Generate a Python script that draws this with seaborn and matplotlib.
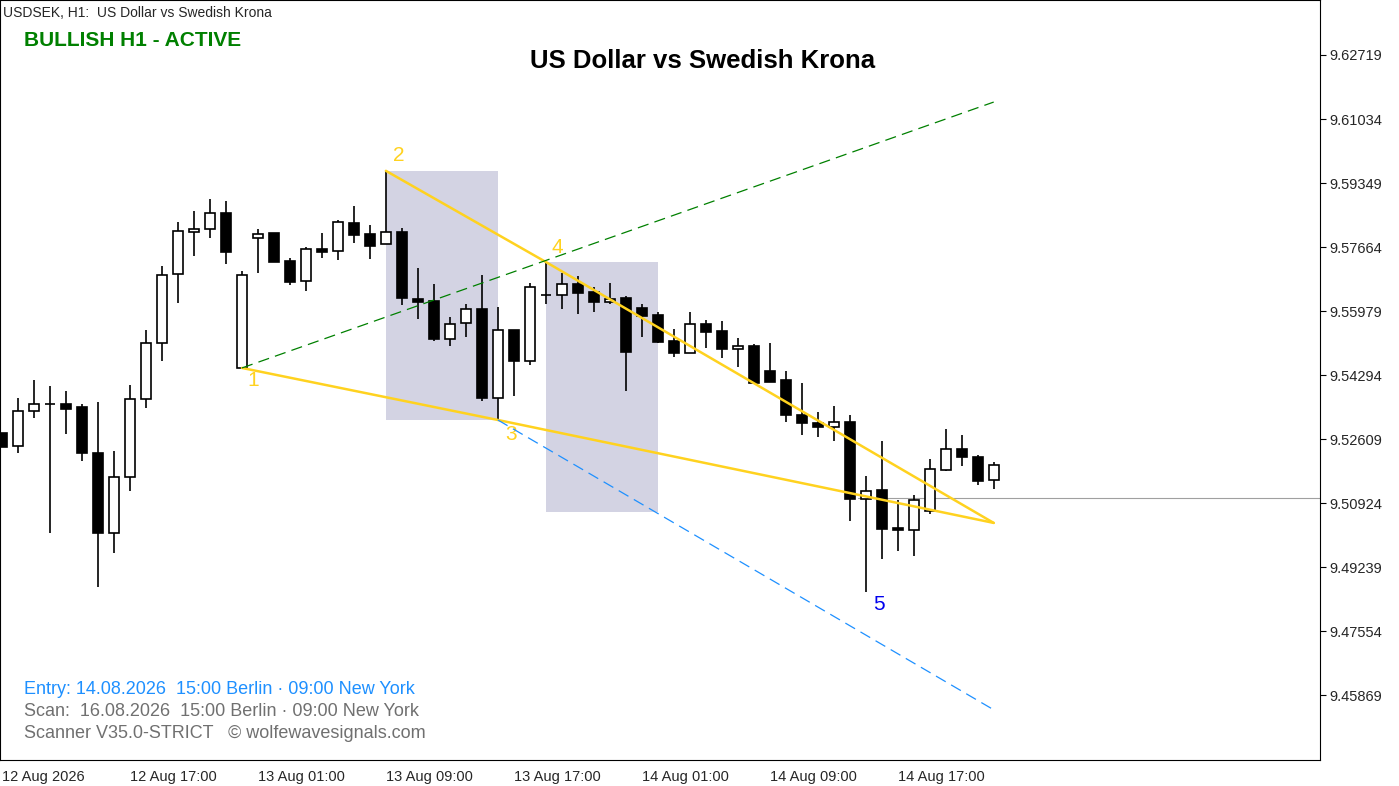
import matplotlib
matplotlib.use("Agg")
import matplotlib.pyplot as plt
import seaborn as sns
import numpy as np
import pandas as pd
from matplotlib.patches import Rectangle

opens = [9.5277,9.5243,9.5335,9.5353,9.5353,9.5345,9.5224,9.5014,9.5161,9.5366,9.5514,9.5696,9.5806,9.5814,9.5856,9.5448,
         9.5790,9.5804,9.5730,9.5677,9.5761,9.5756,9.5830,9.5801,9.5775,9.5806,9.5630,9.5624,9.5524,9.5567,9.5603,9.5369,
         9.5548,9.5466,9.5640,9.5640,9.5669,9.5648,9.5622,9.5632,9.5606,9.5588,9.5519,9.5488,9.5564,9.5545,9.5498,9.5506,
         9.5440,9.5416,9.5324,9.5303,9.5293,9.5306,9.5103,9.5127,9.5027,9.5022,9.5072,9.5179,9.5235,9.5214,9.5153]
highs = [9.5277,9.5369,9.5416,9.5401,9.5387,9.5353,9.5359,9.5230,9.5403,9.5548,9.5717,9.5832,9.5861,9.5893,9.5888,9.5703,
         9.5814,9.5804,9.5738,9.5767,9.5804,9.5838,9.5875,9.5825,9.5967,9.5817,9.5711,9.5669,9.5582,9.5617,9.5693,9.5609,
         9.5548,9.5672,9.5727,9.5698,9.5690,9.5661,9.5672,9.5638,9.5617,9.5596,9.5551,9.5596,9.5574,9.5572,9.5527,9.5511,
         9.5514,9.5440,9.5409,9.5332,9.5348,9.5324,9.5164,9.5256,9.5100,9.5114,9.5208,9.5287,9.5272,9.5219,9.5201]
lows = [9.5240,9.5224,9.5316,9.5014,9.5274,9.5203,9.4871,9.4961,9.5124,9.5343,9.5466,9.5619,9.5743,9.5790,9.5722,9.5448,
        9.5698,9.5727,9.5667,9.5651,9.5738,9.5732,9.5777,9.5735,9.5775,9.5614,9.5577,9.5519,9.5506,9.5530,9.5361,9.5311,
        9.5374,9.5456,9.5617,9.5603,9.5590,9.5596,9.5617,9.5387,9.5530,9.5514,9.5477,9.5488,9.5501,9.5474,9.5451,9.5409,
        9.5411,9.5306,9.5272,9.5266,9.5256,9.5045,9.4858,9.4945,9.4966,9.4953,9.5064,9.5177,9.5190,9.5140,9.5129]
closes = [9.5240,9.5335,9.5353,9.5352,9.5340,9.5224,9.5014,9.5161,9.5366,9.5514,9.5693,9.5809,9.5814,9.5856,9.5753,9.5693,
          9.5801,9.5727,9.5674,9.5761,9.5753,9.5832,9.5798,9.5769,9.5806,9.5632,9.5622,9.5524,9.5564,9.5603,9.5369,9.5548,
          9.5466,9.5661,9.5640,9.5669,9.5646,9.5622,9.5630,9.5490,9.5585,9.5517,9.5488,9.5564,9.5543,9.5498,9.5506,9.5409,
          9.5411,9.5324,9.5303,9.5293,9.5306,9.5103,9.5124,9.5024,9.5022,9.5100,9.5182,9.5235,9.5214,9.5151,9.5193]

tick_idx = [0, 8, 16, 24, 32, 40, 48, 56]
tick_labels = ["12 Aug 2026", "12 Aug 17:00", "13 Aug 01:00", "13 Aug 09:00",
               "13 Aug 17:00", "14 Aug 01:00", "14 Aug 09:00", "14 Aug 17:00"]
y_ticks = [9.62719, 9.61034, 9.59349, 9.57664, 9.55979, 9.54294, 9.52609, 9.50924, 9.49239, 9.47554, 9.45869]

# Wolfe wave points (index, price)
wave_idx = [15, 24, 31, 34, 54]
wave_price = [9.5448, 9.5967, 9.5311, 9.5727, 9.4858]
apex_idx, apex_price = 62, 9.5040
green_end = (62, 9.6148)
blue_end = (62, 9.4548)
current_price = 9.5106

sns.set_style("white")
plt.rcParams['font.family'] = ['Liberation Sans', 'DejaVu Sans']

fig = plt.figure(figsize=(13.99, 7.86), dpi=100)
ax = fig.add_axes([0.0, 1 - 760/786, 1320/1399, 760/786])
ax.set_xlim(-0.125, 82.4)
ax.set_ylim(9.44158, 9.64167)

for (i0, i1, p0, p1) in [(24, 31, wave_price[2], wave_price[1]), (34, 41, 9.5069, wave_price[3])]:
    ax.add_patch(Rectangle((i0, p0), i1 - i0, p1 - p0, color="#d3d3e3", zorder=0, lw=0))

ax.axhline(current_price, xmin=(53.5+0.125)/82.525, color="#a0a0a0", lw=0.8, zorder=1)

x = np.arange(len(opens))
df = pd.DataFrame({"x": x, "o": opens, "h": highs, "l": lows, "c": closes})
ax.vlines(df.x, df.l, df.h, color="black", lw=1.2, zorder=2)
w = 0.62
for r in df.itertuples():
    bull = r.c >= r.o
    lo, hi = min(r.o, r.c), max(r.o, r.c)
    hgt = max(hi - lo, 0.00008)
    ax.add_patch(Rectangle((r.x - w/2, lo), w, hgt, facecolor="white" if bull else "black",
                           edgecolor="black", lw=1.2, zorder=3))

gold = "#FFD21F"
sns.lineplot(x=[wave_idx[0], wave_idx[2], apex_idx], y=[wave_price[0], wave_price[2], apex_price],
             ax=ax, color=gold, lw=1.8, zorder=4)
sns.lineplot(x=[wave_idx[1], wave_idx[3], apex_idx], y=[wave_price[1], wave_price[3], apex_price],
             ax=ax, color=gold, lw=1.8, zorder=4, sort=False)
ax.plot([wave_idx[0], green_end[0]], [wave_price[0], green_end[1]], color="green", lw=0.9, ls=(0, (9, 5)), zorder=4)
ax.plot([wave_idx[2], blue_end[0]], [wave_price[2], blue_end[1]], color="#1E90FF", lw=0.9, ls=(0, (9, 5)), zorder=4)

ax.text(15.7, 9.5448 - 0.0033, "1", color=gold, fontsize=15, ha="center", va="center")
ax.text(24.8, 9.5967 + 0.0040, "2", color=gold, fontsize=15, ha="center", va="center")
ax.text(31.8, 9.5311 - 0.0037, "3", color=gold, fontsize=15, ha="center", va="center")
ax.text(34.7, 9.5727 + 0.0039, "4", color=gold, fontsize=15, ha="center", va="center")
ax.text(54.8, 9.4858 - 0.0033, "5", color="#0000EE", fontsize=15, ha="center", va="center")

ax.set_xticks(tick_idx)
ax.set_xticklabels(tick_labels, fontsize=10.5, ha="left")
ax.set_yticks(y_ticks)
ax.set_yticklabels([f"{v:.5f}" for v in y_ticks], fontsize=10.5)
ax.yaxis.tick_right()
ax.tick_params(axis="both", length=4, width=0.8, color="black", direction="out", pad=3)
for s in ax.spines.values():
    s.set_color("black"); s.set_linewidth(0.8)

ax.text(0.002, 0.992, "USDSEK, H1:  US Dollar vs Swedish Krona",
        transform=ax.transAxes, fontsize=10, va="top", ha="left")
ax.text(24/1320, 1 - 41/760, "BULLISH H1 - ACTIVE", transform=ax.transAxes, fontsize=15,
        fontweight="bold", color="#008000", va="center", ha="left")
ax.text(703/1320, 1 - 61/760, "US Dollar vs Swedish Krona", transform=ax.transAxes, fontsize=18.5,
        fontweight="bold", color="black", va="center", ha="center")
ax.text(24/1320, 1 - 690/760, "Entry: 14.08.2026  15:00 Berlin · 09:00 New York", transform=ax.transAxes,
        fontsize=13, color="#1E90FF", va="center", ha="left")
ax.text(24/1320, 1 - 712/760, "Scan:  16.08.2026  15:00 Berlin · 09:00 New York", transform=ax.transAxes,
        fontsize=13, color="#707070", va="center", ha="left")
ax.text(24/1320, 1 - 734/760, "Scanner V35.0-STRICT   © wolfewavesignals.com", transform=ax.transAxes,
        fontsize=13, color="#707070", va="center", ha="left")
ax.set_xlabel(""); ax.set_ylabel("")

fig.savefig("out.png", dpi=100)
